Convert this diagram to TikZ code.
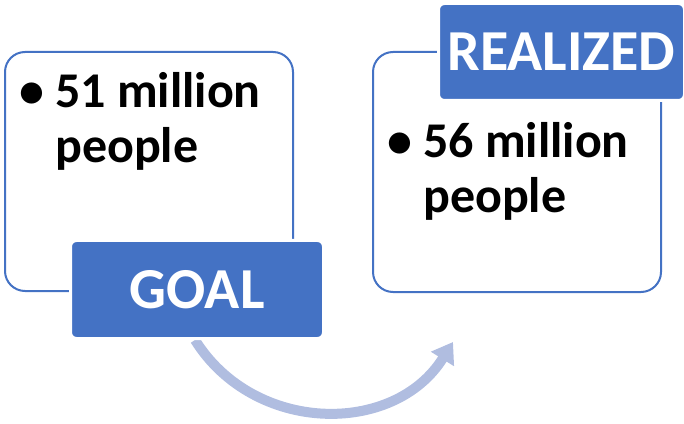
\documentclass[tikz,border=0pt]{standalone}
\usepackage{fontspec}
\setmainfont{Carlito}
\usepackage{xcolor}
\usetikzlibrary{arrows.meta, positioning, backgrounds}

\definecolor{tagblue}{RGB}{68,114,196}
\definecolor{flowblue}{RGB}{176,189,224}

\begin{document}
\begin{tikzpicture}[x=1pt, y=1pt,
  panel/.style={draw=tagblue, line width=2pt, rounded corners=20pt, fill=white, anchor=south west, inner sep=0pt},
  tag/.style={fill=tagblue, draw=white, line width=3pt, rounded corners=6pt, text=white,
    font=\fontsize{58}{60}\selectfont\bfseries, anchor=south west, inner sep=0pt},
  point/.style={anchor=base west, inner sep=0pt, font=\fontsize{50}{50}\selectfont\bfseries}]
  \useasboundingbox (0,0) rectangle (684,423);
  \renewcommand{\arraystretch}{0}
  % the two panels
  \node[panel, minimum width=288pt, minimum height=239pt] (goalbox) at (4,131) {};
  \node[panel, minimum width=288pt, minimum height=240pt] (realbox) at (372,130) {};
  \node[point] (goaltext) at (22,315) {\begin{tabular}[t]{@{}c@{\hspace{13pt}}l@{}}
      \makebox[20pt]{\textbullet} & 51 million\\[19pt] & people\end{tabular}};
  \node[point] (realtext) at (390,265) {\begin{tabular}[t]{@{}c@{\hspace{13pt}}l@{}}
      \makebox[20pt]{\textbullet} & 56 million\\[19pt] & people\end{tabular}};
  % labels
  \node[tag, minimum width=253pt, minimum height=98pt] (goal) at (69,83) {GOAL};
  \node[tag, minimum width=246pt, minimum height=97pt] (realized) at (437,321) {REALIZED};
  % arrow
  \coordinate (tip) at (453,81);
  \begin{scope}[on background layer]
    \draw[flowblue, line width=10pt, -{Triangle[width=26pt, length=20pt]}]
      ([xshift=-2pt]goal.south) to[out=-58, in=-122, looseness=1.1] (tip);
  \end{scope}
\end{tikzpicture}
\end{document}
